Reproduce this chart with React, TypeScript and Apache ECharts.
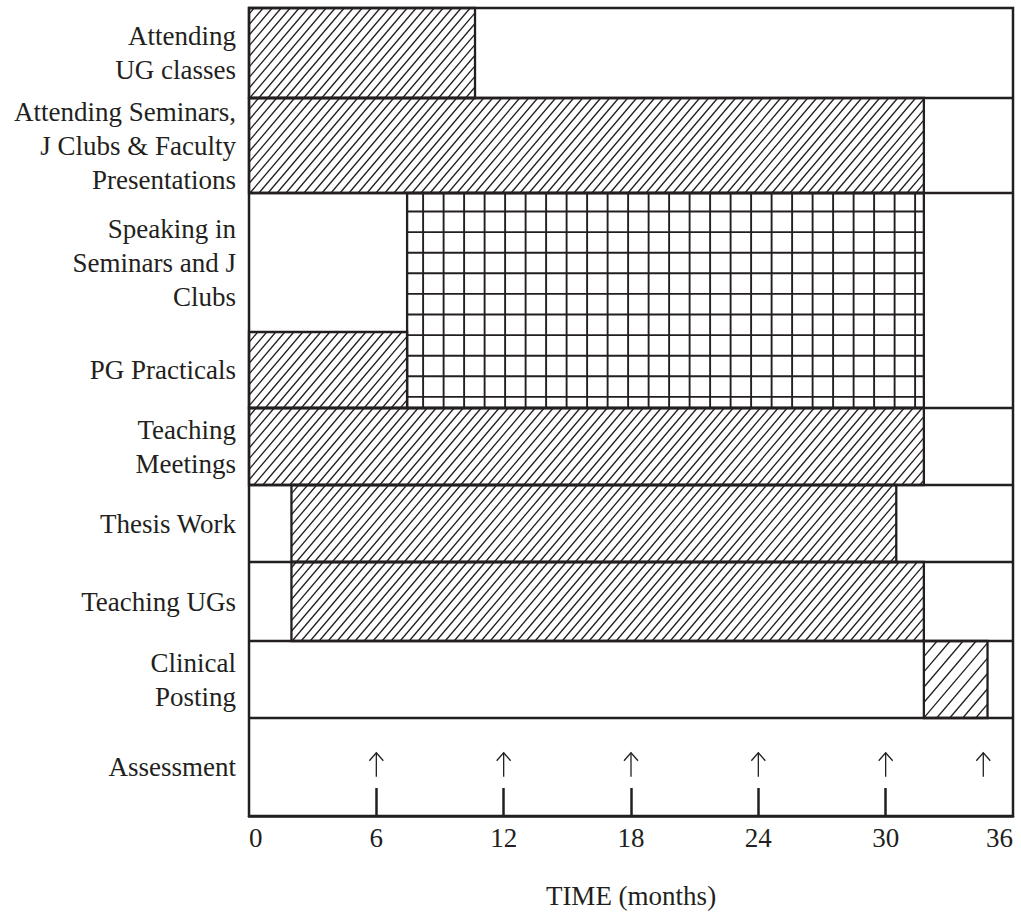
import React, { useEffect, useRef } from "react";
import * as echarts from "echarts";

// ---------- data ----------
const ROW_LABELS = [
  "Attending\nUG classes",
  "Attending Seminars,\nJ Clubs & Faculty\nPresentations",
  "Speaking in\nSeminars and J\nClubs",
  "PG Practicals",
  "Teaching\nMeetings",
  "Thesis Work",
  "Teaching UGs",
  "Clinical\nPosting",
  "Assessment",
];

const TASK_ROW_FROM = [0, 1, 2, 3, 4, 5, 6, 7];
const TASK_ROW_TO = [0, 1, 3, 3, 4, 5, 6, 7];
const TASK_START = [0, 0, 7.45, 0, 0, 2, 2, 31.8];
const TASK_END = [10.65, 31.8, 31.8, 7.45, 31.8, 30.5, 31.8, 34.8];
const TASK_FILL = ["hatch", "hatch", "grid", "hatch", "hatch", "hatch", "hatch", "hatchWide"];

const ASSESSMENT_ROW = 8;
const ASSESSMENT_MONTHS = [6, 12, 18, 24, 30, 34.6];
const X_TICK_MARKS = [6, 12, 18, 24, 30];
const X_TICK_LABELS = [0, 6, 12, 18, 24, 30, 36];

// ---------- layout ----------
const ROW_WEIGHTS = [90, 95, 139, 76, 77, 77, 79, 77, 98];
const ROW_EDGES = ROW_WEIGHTS.reduce((acc: number[], w) => [...acc, acc[acc.length - 1] + w], [0]);
const ROW_CENTERS = ROW_WEIGHTS.map((w, i) => ROW_EDGES[i] + w / 2);
const TOTAL = ROW_EDGES[ROW_EDGES.length - 1];
// row edges drawn as full-width separators (rows 2 and 3 share the right part)
const SEPARATOR_EDGES = [1, 2, 4, 5, 6, 7, 8].map((i) => ROW_EDGES[i]);

const INK = "#231f20";
const FONT = '"Liberation Serif", "Times New Roman", Times, serif';
const FS = 27;

export default function App() {
  const ref = useRef<HTMLDivElement>(null);

  useEffect(() => {
    document.body.style.margin = "0";
    const chart = echarts.init(ref.current!, null, { renderer: "svg" });

    const option: any = {
      animation: false,
      backgroundColor: "#ffffff",
      grid: {
        left: 249,
        right: 8,
        top: 8,
        bottom: 104,
        show: true,
        borderColor: INK,
        borderWidth: 2.5,
        backgroundColor: "transparent",
        containLabel: false,
        outerBoundsMode: "none",
      },
      xAxis: {
        type: "value",
        position: "bottom",
        min: 0,
        max: 36,
        interval: 6,
        axisLine: { show: true, onZero: false, lineStyle: { color: INK, width: 2.5 } },
        axisTick: {
          show: true,
          inside: true,
          length: 28,
          customValues: X_TICK_MARKS,
          lineStyle: { color: INK, width: 2.5 },
        },
        axisLabel: {
          show: true,
          customValues: X_TICK_LABELS,
          fontSize: FS,
          fontFamily: FONT,
          color: INK,
          margin: 8,
          alignMinLabel: "left",
          alignMaxLabel: "right",
        },
        splitLine: { show: false },
        name: "TIME (months)",
        nameLocation: "middle",
        nameGap: 66,
        nameTextStyle: { fontSize: FS, fontFamily: FONT, color: INK },
      },
      yAxis: {
        type: "value",
        inverse: true,
        min: 0,
        max: TOTAL,
        axisLine: { show: false, onZero: false },
        axisTick: { show: false },
        splitLine: { show: false },
        axisLabel: {
          show: true,
          customValues: ROW_CENTERS,
          formatter: (v: number) => {
            let best = 0;
            ROW_CENTERS.forEach((c, i) => {
              if (Math.abs(c - v) < Math.abs(ROW_CENTERS[best] - v)) best = i;
            });
            return ROW_LABELS[best];
          },
          fontSize: FS,
          lineHeight: 34,
          fontFamily: FONT,
          color: INK,
          margin: 13,
          align: "right",
        },
      },
      series: [
        {
          type: "custom",
          name: "separators",
          clip: false,
          silent: true,
          data: SEPARATOR_EDGES.map((e) => [0, e]),
          renderItem: (params: any, api: any) => {
            const e = SEPARATOR_EDGES[params.dataIndex];
            const a = api.coord([0, e]);
            const b = api.coord([36, e]);
            return {
              type: "line",
              shape: { x1: a[0], y1: a[1], x2: b[0], y2: b[1] },
              style: { stroke: INK, lineWidth: 2.3 },
            };
          },
        },
        {
          type: "custom",
          name: "activities",
          clip: false,
          silent: true,
          data: TASK_START.map((s, i) => [s, TASK_END[i], TASK_ROW_FROM[i], TASK_ROW_TO[i]]),
          renderItem: (params: any, api: any) => {
            const i = params.dataIndex;
            const pA = api.coord([api.value(0), ROW_EDGES[api.value(2)]]);
            const pB = api.coord([api.value(1), ROW_EDGES[api.value(3) + 1]]);
            const x0 = Math.min(pA[0], pB[0]);
            const x1 = Math.max(pA[0], pB[0]);
            const y0 = Math.min(pA[1], pB[1]);
            const y1 = Math.max(pA[1], pB[1]);
            const children: any[] = [];
            const fill = TASK_FILL[i];
            if (fill === "grid") {
              for (let x = x0 + 16; x < x1 - 3; x += 20.5) {
                children.push({
                  type: "line",
                  shape: { x1: x, y1: y0, x2: x, y2: y1 },
                  style: { stroke: INK, lineWidth: 1.9 },
                });
              }
              for (let y = y0 + 18.5; y < y1 - 3; y += 20.6) {
                children.push({
                  type: "line",
                  shape: { x1: x0, y1: y, x2: x1, y2: y },
                  style: { stroke: INK, lineWidth: 1.9 },
                });
              }
            } else {
              const s = fill === "hatchWide" ? 13 : 9;
              const k = 0.85;
              for (let c = Math.ceil((x0 + k * y0) / s) * s; c <= x1 + k * y1; c += s) {
                const ya = Math.max(y0, (c - x1) / k);
                const yb = Math.min(y1, (c - x0) / k);
                if (yb - ya > 0.5) {
                  children.push({
                    type: "line",
                    shape: { x1: c - k * ya, y1: ya, x2: c - k * yb, y2: yb },
                    style: { stroke: INK, lineWidth: 1.3 },
                  });
                }
              }
            }
            children.push({
              type: "rect",
              shape: { x: x0, y: y0, width: x1 - x0, height: y1 - y0 },
              style: { fill: "none", stroke: INK, lineWidth: 2.3 },
            });
            return { type: "group", children };
          },
        },
        {
          type: "custom",
          name: "assessment",
          clip: false,
          silent: true,
          data: ASSESSMENT_MONTHS.map((m) => [m, ASSESSMENT_ROW]),
          renderItem: (params: any, api: any) => {
            const row = api.value(1);
            const x = api.coord([api.value(0), 0])[0];
            const top = api.coord([0, ROW_EDGES[row]])[1];
            const bot = api.coord([0, ROW_EDGES[row + 1]])[1];
            const h = bot - top;
            const ya = top + 0.355 * h;
            const yb = top + 0.6 * h;
            return {
              type: "group",
              children: [
                {
                  type: "line",
                  shape: { x1: x, y1: ya, x2: x, y2: yb },
                  style: { stroke: INK, lineWidth: 1.3 },
                },
                {
                  type: "polyline",
                  shape: { points: [[x - 7, ya + 8], [x, ya], [x + 7, ya + 8]] },
                  style: { stroke: INK, lineWidth: 1.3, fill: "none" },
                },
              ],
            };
          },
        },
      ],
    };

    chart.setOption(option);
    return () => chart.dispose();
  }, []);

  return <div ref={ref} style={{ width: 1021, height: 920 }} />;
}
